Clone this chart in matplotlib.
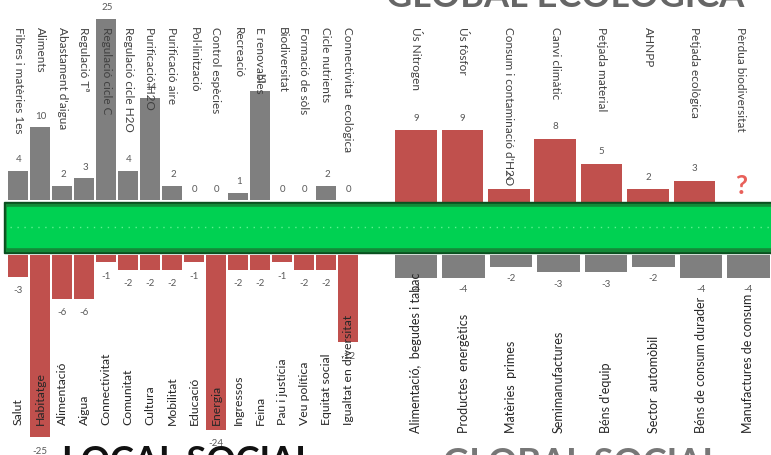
import matplotlib
matplotlib.use("Agg")
import matplotlib.pyplot as plt
from matplotlib.patches import Rectangle

plt.rcParams['font.family'] = ['Lato', 'DejaVu Sans']

W, H = 771, 455

# --- data -------------------------------------------------------------
eco_local_cats = ["Fibres i matèries 1es", "Aliments", "Abastament d'aigua", "Regulació Tª",
                  "Regulació cicle C", "Regulació cicle H2O", "Purificació H2O", "Purificació aire",
                  "Pol·linització", "Control espècies", "Recreació", "E renovables",
                  "Biodiversitat", "Formació de sòls", "Cicle nutrients", "Connectivitat  ecològica"]
eco_local_vals = [4, 10, 2, 3, 25, 4, 14, 2, 0, 0, 1, 15, 0, 0, 2, 0]

eco_global_cats = ["Ús Nitrogen", "Ús fòsfor", "Consum i contaminació d'H2O", "Canvi climàtic",
                   "Petjada material", "AHNPP", "Petjada ecològica", "Pèrdua biodiversitat"]
eco_global_vals = [9, 9, 2, 8, 5, 2, 3]

soc_local_cats = ["Salut", "Habitatge", "Alimentació", "Aigua", "Connectivitat", "Comunitat",
                  "Cultura", "Mobilitat", "Educació", "Energia", "Ingressos", "Feina",
                  "Pau i justícia", "Veu política", "Equitat social", "Igualtat en diversitat"]
soc_local_vals = [-3, -25, -6, -6, -1, -2, -2, -2, -1, -24, -2, -2, -1, -2, -2, -12]

soc_global_cats = ["Alimentació,  begudes i tabac", "Productes  energètics", "Matèries  primes",
                   "Semimanufactures", "Béns d'equip", "Sector  automòbil",
                   "Béns de consum durader", "Manufactures de consum"]
soc_global_vals = [-4, -4, -2, -3, -3, -2, -4, -4]

RED = "#c0504d"
GREY = "#7f7f7f"
TXT = "#404040"
VAL = "#595959"

fig = plt.figure(figsize=(W / 100, H / 100), dpi=100)


def add_ax(x0, x1, y0, y1):
    ax = fig.add_axes([x0 / W, 1 - y1 / H, (x1 - x0) / W, (y1 - y0) / H])
    ax.set_axis_off()
    return ax


# top left: local ecological
ax1 = add_ax(0, 390, 0, 200)
x1 = list(range(len(eco_local_vals)))
ax1.bar(x1, eco_local_vals, width=0.88, color=GREY)
ax1.set_xlim(-18 / 22, (390 - 18) / 22)
ax1.set_ylim(0, 200 / 7.25)
for i, v in enumerate(eco_local_vals):
    ax1.annotate(str(v), (i, v), xytext=(1, 11), textcoords='offset pixels',
                 ha='center', va='center', fontsize=7, color=VAL)
for i, c in enumerate(eco_local_cats):
    ax1.text(i, (200 - 27) / 200, c, transform=ax1.get_xaxis_transform(), rotation=270,
             ha='center', va='top', fontsize=8.5, color=TXT)

# top right: global ecological
ax2 = add_ax(380, 771, 0, 206)
x2 = list(range(len(eco_global_vals)))
ax2.bar(x2, eco_global_vals, width=0.9, color=RED)
ax2.set_xlim((380 - 416) / 46.4, (771 - 416) / 46.4)
ax2.set_ylim(0, 206 / 8.43)
for i, v in enumerate(eco_global_vals):
    ax2.annotate(str(v), (i, v), xytext=(0, 12), textcoords='offset pixels',
                 ha='center', va='center', fontsize=7, color=VAL)
for i, c in enumerate(eco_global_cats):
    ax2.text(i, (206 - 27) / 206, c, transform=ax2.get_xaxis_transform(), rotation=270,
             ha='center', va='top', fontsize=8.5, color=TXT)
ax2.text(len(eco_global_cats) - 1, (206 - 186) / 206, "?", transform=ax2.get_xaxis_transform(),
         ha='center', va='center', fontsize=19, fontweight='bold', color="#e8605a")

# bottom left: local social
ax3 = add_ax(0, 390, 255, 455)
x3 = list(range(len(soc_local_vals)))
ax3.bar(x3, soc_local_vals, width=0.88, color=RED)
ax3.set_xlim(-18 / 22, (390 - 18) / 22)
ax3.set_ylim(-200 / 7.29, 0)
for i, v in enumerate(soc_local_vals):
    ax3.annotate(str(v), (i, v), xytext=(0, -14), textcoords='offset pixels',
                 ha='center', va='center', fontsize=7, color=VAL)
for i, c in enumerate(soc_local_cats):
    ax3.text(i, (455 - 425) / 200, c, transform=ax3.get_xaxis_transform(), rotation=90,
             ha='center', va='bottom', fontsize=8.8, color="#262626")

# bottom right: global social
ax4 = add_ax(380, 771, 255, 455)
x4 = list(range(len(soc_global_vals)))
ax4.bar(x4, soc_global_vals, width=0.885, color=GREY)
ax4.set_xlim((380 - 416) / 47.5, (771 - 416) / 47.5)
ax4.set_ylim(-200 / 5.75, 0)
for i, v in enumerate(soc_global_vals):
    ax4.annotate(str(v), (i, v), xytext=(0, -12), textcoords='offset pixels',
                 ha='center', va='center', fontsize=7, color=VAL)
for i, c in enumerate(soc_global_cats):
    ax4.text(i, (455 - 433) / 200, c, transform=ax4.get_xaxis_transform(), rotation=90,
             ha='center', va='bottom', fontsize=9, color="#262626")

# green band across the middle
band = add_ax(0, 771, 198, 257)
band.set_xlim(0, W)
band.set_ylim(257, 198)
band.add_patch(Rectangle((4, 202), W, 51, color="#0a4f1f"))
band.add_patch(Rectangle((6, 204), W, 47, color="#138a38"))
band.add_patch(Rectangle((7, 207), W, 40, color="#00d152"))
band.plot([10, W], [227, 227], ls=(0, (1, 4)), color="#5cf08f", lw=1)

# section titles (cut by the frame)
fig.text(175 / W, 1 - 3 / H, "LOCAL ECOLÒGICA", ha='center', va='bottom',
         fontsize=26, fontweight='bold', color="#555555")
fig.text(565 / W, 1 - 13 / H, "GLOBAL ECOLÒGICA", ha='center', va='bottom',
         fontsize=26, fontweight='bold', color="#666666")
fig.text(188 / W, 1 - 445 / H, "LOCAL SOCIAL", ha='center', va='top',
         fontsize=26, fontweight='bold', color="#111111")
fig.text(582 / W, 1 - 447 / H, "GLOBAL SOCIAL", ha='center', va='top',
         fontsize=26, fontweight='bold', color="#777777")

fig.savefig("out.png", dpi=100)
